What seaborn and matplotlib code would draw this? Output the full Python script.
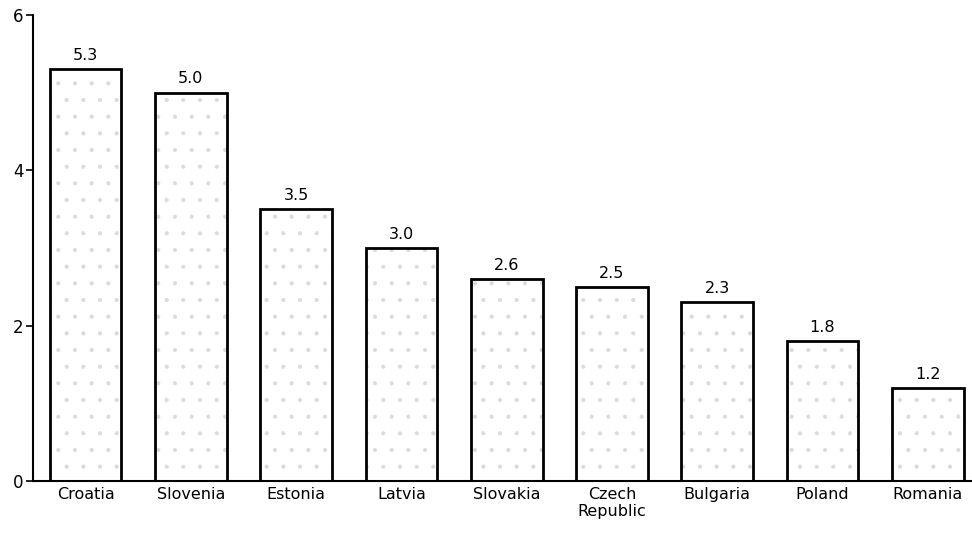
import matplotlib
matplotlib.use('Agg')
import matplotlib.pyplot as plt
import seaborn as sns
import pandas as pd

countries = ['Croatia', 'Slovenia', 'Estonia', 'Latvia', 'Slovakia',
             'Czech\nRepublic', 'Bulgaria', 'Poland', 'Romania']
values = [5.3, 5.0, 3.5, 3.0, 2.6, 2.5, 2.3, 1.8, 1.2]
y_ticks = [0, 2, 4, 6]

df = pd.DataFrame({'country': countries, 'value': values})

sns.set_style('white')
plt.rcParams['font.family'] = ['DejaVu Sans']
plt.rcParams['text.color'] = 'black'
plt.rcParams['xtick.color'] = 'black'
plt.rcParams['ytick.color'] = 'black'
plt.rcParams['hatch.linewidth'] = 0.5

fig = plt.figure(figsize=(9.72, 5.35), dpi=100)
ax = fig.add_axes([33 / 972, 1 - 481 / 535, 939 / 972, 466 / 535])

# stippled fill (light dots)
sns.barplot(x='country', y='value', data=df, ax=ax, color='white',
            width=0.68, edgecolor='#dadada', linewidth=0, hatch='.')
# black outline on top
sns.barplot(x='country', y='value', data=df, ax=ax, fill=False,
            width=0.68, edgecolor='black', linewidth=2)

for i, v in enumerate(values):
    ax.text(i, v + 0.08, f'{v:.1f}', ha='center', va='bottom',
            fontsize=11.5, color='black')

ax.set_ylim(0, 6)
ax.set_xlim(-0.5, 8.42)
ax.set_yticks(y_ticks)
ax.set_yticklabels([str(t) for t in y_ticks], fontsize=12)
ax.tick_params(axis='x', labelsize=11.5, length=0, pad=4, labelcolor='black')
ax.tick_params(axis='y', left=True, length=5, width=1.2, pad=2, labelcolor='black')
ax.set_xlabel('')
ax.set_ylabel('')
sns.despine(ax=ax, top=True, right=True)
ax.spines['left'].set_linewidth(1.5)
ax.spines['bottom'].set_linewidth(1.5)
ax.spines['left'].set_color('black')
ax.spines['bottom'].set_color('black')

fig.savefig('out.png', dpi=100)
